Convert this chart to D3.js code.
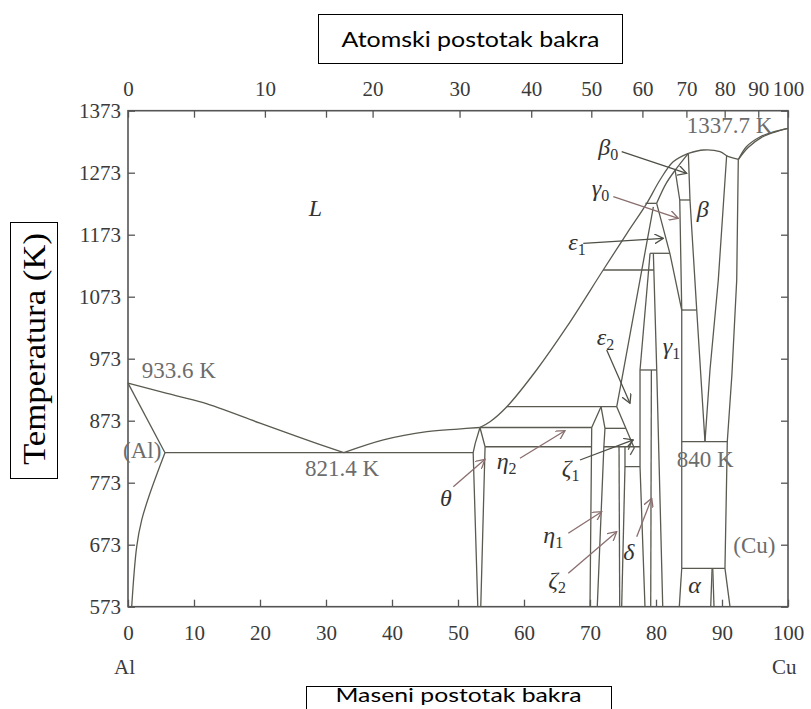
<!DOCTYPE html>
<html><head><meta charset="utf-8">
<script src="https://cdn.jsdelivr.net/npm/d3@7"></script>
<style>body{margin:0;background:#fff}svg{display:block}</style>
</head><body>
<svg id="c" width="811" height="709"></svg>
<script>
// ---------- data (wt% Cu, temperature K) ----------
const wtTicks = [0,10,20,30,40,50,60,70,80,90,100];
const atTicks = [0,10,20,30,40,50,60,70,80,90,100];
const tempTicks = [573,673,773,873,973,1073,1173,1273,1373];
const topExtraWt = [10,30];

const alLiquidus = [[0,933.6],[5.9,917],[11.4,902],[20,869],[26,846],[32.7,821.4]];
const eutLiquidus = [[32.7,821.4],[38.7,842],[45.3,855.3],[50,859.5],[53.3,862]];
const upperLiquidus = [[53.3,862],[54.85,871.4],[57.4,895.6],[61.9,954.8],[66.5,1024.6],[72.0,1116.1],[75.6,1175.3],[78.6,1223.6],[80.6,1261.2],[82.6,1290.7],[84.9,1304.3]];
const betaDome = [[84.9,1304.3],[87.2,1309.6],[89.7,1306.9],[91.0,1298.8],[92.5,1294.6]];
const cuLiquidus = [[92.5,1294.6],[93.7,1314.9],[95.8,1331],[97.8,1339],[100,1344.6]];
const cuSolidus = [[92.5,1294.6],[94.0,1314],[96,1330],[98,1338.5],[100,1344.6]];
const alSolvus = [[5.6,821.4],[3.33,756],[2.08,713],[1.32,670],[0.56,573]];
const gamma0Solidus = [[84.9,1304.3],[82.9,1277],[81.5,1255],[80.1,1223.6]];

const alSolidus = [[0,933.6],[5.6,821.4]];
const eutectic = [[5.6,821.4],[52.3,821.4]];
const thetaLeft = [[53.33,862],[52.6,836],[52.3,821.4],[53.0,573]];
const thetaRight = [[53.33,862],[54.1,831],[53.45,573]];
const theta862 = [[53.33,862],[70.26,862]];
const eta831 = [[54.1,831],[70.15,831]];
const eta895 = [[57.38,895.6],[74.05,895.6]];
const etaLeft = [[71.67,895.6],[70.26,862],[70.0,573]];
const etaRight = [[71.67,895.6],[72.27,860.7],[72.1,831],[71.1,573]];
const zeta860 = [[72.27,860.7],[75.44,860.7]];
const zeta831 = [[72.1,831],[77.58,831]];
const zetaBox = [[75.3,831],[75.3,798.8],[77.58,798.8]];
const zeta2Left = [[74.4,831],[74.5,573]];
const zeta2Right = [[75.3,798.8],[74.8,573]];
const zeta1a = [[76.3,839],[75.8,826]];
const zeta1b = [[76.3,839],[76.7,829],[76.1,818]];
const eps2Left = [[79.6,1218],[74.8,938.6],[74.05,895.6],[76.3,839]];
const eps1Right = [[79.1,1143],[77.58,954.8]];
const deltaLeft = [[77.58,954.8],[77.58,798.8],[78.33,573]];
const deltaRight = [[79.3,954.8],[79.2,573]];
const delta955 = [[77.58,954.8],[80.11,954.8]];
const gamma1Left = [[79.6,1143],[80.11,954.8],[81.02,573]];
const eps1Top = [[78.4,1223.6],[80.1,1223.6]];
const eps2Peritectic = [[72.0,1116.1],[79.7,1116.1]];
const gamma1143 = [[79.1,1143],[82.1,1143]];
const gamma0Left = [[80.1,1223.6],[82.1,1143],[83.9,1051.5]];
const gamma0Right = [[82.9,1277],[83.6,1229]];
const beta0Bottom = [[83.6,1229],[85.15,1229]];
const gamma1Right = [[83.6,1229],[83.9,1051.5],[83.9,839.1],[83.9,634.9]];
const beta1051 = [[83.9,1051.5],[86.17,1051.5]];
const betaLeft = [[84.9,1304.3],[85.15,1229],[86.17,1051.5],[87.42,839.1]];
const betaRight = [[90.71,1301.5],[89.44,1100],[88.18,954.8],[87.42,839.1]];
const eutectoid840 = [[83.9,839.1],[90.8,839.1]];
const cuSolvus = [[92.47,1294.6],[92.23,1100],[91.5,947],[90.8,839.1],[90.45,634.9],[91.21,573]];
const alpha635 = [[83.9,634.9],[90.45,634.9]];
const alphaLeft = [[83.9,634.9],[83.53,573]];
const alpha2a = [[88.5,634.9],[88.29,573]];
const alpha2b = [[88.6,634.9],[88.79,573]];

const curvedLines = [alLiquidus, eutLiquidus, upperLiquidus, betaDome, cuLiquidus, cuSolidus, alSolvus, gamma0Solidus];
const straightLines = [alSolidus, eutectic, thetaLeft, thetaRight, theta862, eta831, eta895, etaLeft, etaRight,
  zeta860, zeta831, zetaBox, zeta2Left, zeta2Right, zeta1a, zeta1b, eps2Left, eps1Right, deltaLeft, deltaRight,
  delta955, gamma1Left, eps1Top, eps2Peritectic, gamma1143, gamma0Left, gamma0Right, beta0Bottom, gamma1Right,
  beta1051, betaLeft, betaRight, eutectoid840, cuSolvus, alpha635, alphaLeft, alpha2a, alpha2b];

// phase labels: [base, subscript, wt, T]
const phaseLabels = [
  ['L','',27.4,1203],
  ['θ','',47.27,735.4],
  ['η','2',55.86,795.1],
  ['ζ','1',65.71,783.8],
  ['η','1',62.93,675.7],
  ['ζ','2',63.68,603.2],
  ['δ','',75.05,648.3],
  ['α','',84.89,595.1],
  ['β','0',71.26,1301.5],
  ['γ','0',70.26,1235.4],
  ['ε','1',66.71,1148.3],
  ['ε','2',71.02,995],
  ['γ','1',81.02,980.6],
  ['β','',86.17,1201.5]
];
// value labels: [text, wt, T]
const valueLabels = [
  ['933.6 K',2.08,941.9],
  ['821.4 K',26.82,783.8],
  ['(Al)',-0.76,812.8],
  ['840 K',83.14,798.3],
  ['(Cu)',91.71,659.6],
  ['1337.7 K',84.65,1337]
];
// arrows: [fromWt, fromT, toWt, toT, kind]
const arrows = [
  [49.29,766.6,54.09,810.7,'b'],
  [59.39,812.4,66.21,856.9,'b'],
  [68.48,809.6,76.56,841.9,'g'],
  [66.71,691.4,71.77,726.2,'b'],
  [66.71,626.9,74.05,694,'b'],
  [77.08,686,79.35,747.8,'b'],
  [72.53,987,76.06,901.1,'g'],
  [68.98,1159.1,81.11,1167.2,'g'],
  [73.53,1234.3,83.38,1199.5,'b'],
  [74.8,1306.9,84.65,1272,'g']
];

// ---------- drawing ----------
const svg = d3.select('#c');
const x = d3.scaleLinear().domain([0,100]).range([128,788]);
const y = d3.scaleLinear().domain([573,1373]).range([606.7,110.7]);
const atToWt = a => 100*a*63.546/(a*63.546+(100-a)*26.98);

const lineCol = '#5a5a50';
const serif = 'Liberation Serif, Times New Roman, serif';

const defs = svg.append('defs');
[['b','#8a6e6e'],['g','#4e4e46']].forEach(([k,c])=>{
  defs.append('marker').attr('id','ah'+k).attr('viewBox','0 0 10 10')
    .attr('refX',9).attr('refY',5).attr('markerWidth',10).attr('markerHeight',10)
    .attr('markerUnits','userSpaceOnUse').attr('orient','auto')
    .append('path').attr('d','M0,0 L9,5 L0,10').attr('fill','none').attr('stroke',c).attr('stroke-width',1.3);
});

// axes
const fmt = d3.format('d');
const axisStyle = g => {
  g.attr('font-family',serif).attr('font-size',21);
  g.select('.domain').remove();
  g.selectAll('.tick line').attr('stroke','#555').attr('stroke-width',1.3);
  g.selectAll('.tick text').attr('fill','#3a3a3a').style('font-family',serif).style('font-size','21px');
};
svg.append('g').attr('transform',`translate(0,${y(573)})`)
  .call(d3.axisBottom(x).tickValues(wtTicks).tickFormat(fmt).tickSizeInner(-7).tickSizeOuter(0).tickPadding(18)).call(axisStyle);
svg.append('g').attr('transform',`translate(${x(0)},0)`)
  .call(d3.axisLeft(y).tickValues(tempTicks).tickFormat(fmt).tickSizeInner(-7).tickSizeOuter(0).tickPadding(7)).call(axisStyle);
svg.append('g').attr('transform',`translate(${x(100)},0)`)
  .call(d3.axisRight(y).tickValues(tempTicks).tickSizeInner(-7).tickSizeOuter(0).tickFormat('')).call(axisStyle);
svg.append('g').attr('transform',`translate(0,${y(1373)})`)
  .call(d3.axisTop(x).tickValues(atTicks.map(atToWt)).tickFormat((d,i)=>atTicks[i]).tickSizeInner(-7).tickSizeOuter(0).tickPadding(15)).call(axisStyle);
svg.append('g').attr('transform',`translate(0,${y(1373)})`)
  .call(d3.axisTop(x).tickValues(topExtraWt).tickSizeInner(-7).tickSizeOuter(0).tickFormat('')).call(axisStyle);

// frame
svg.append('rect').attr('x',x(0)).attr('y',y(1373)).attr('width',x(100)-x(0)).attr('height',y(573)-y(1373))
  .attr('fill','none').attr('stroke','#555').attr('stroke-width',1.6);

// phase lines
const lineGen = d3.line().x(d=>x(d[0])).y(d=>y(d[1]));
const curveGen = d3.line().x(d=>x(d[0])).y(d=>y(d[1])).curve(d3.curveCatmullRom.alpha(0.5));
svg.append('g').selectAll('path').data(curvedLines).join('path')
  .attr('d',curveGen).attr('fill','none').attr('stroke',lineCol).attr('stroke-width',1.3);
svg.append('g').selectAll('path').data(straightLines).join('path')
  .attr('d',lineGen).attr('fill','none').attr('stroke',lineCol).attr('stroke-width',1.3).attr('stroke-linejoin','round');

// arrows
svg.append('g').selectAll('line').data(arrows).join('line')
  .attr('x1',d=>x(d[0])).attr('y1',d=>y(d[1])).attr('x2',d=>x(d[2])).attr('y2',d=>y(d[3]))
  .attr('stroke',d=>d[4]==='b'?'#8a6e6e':'#4e4e46').attr('stroke-width',1.3)
  .attr('marker-end',d=>`url(#ah${d[4]})`);

// value labels
svg.append('g').selectAll('text').data(valueLabels).join('text')
  .attr('x',d=>x(d[1])).attr('y',d=>y(d[2])).text(d=>d[0])
  .attr('fill','#6c6c6c').style('font-family',serif).style('font-size','23px');

// phase labels
const pl = svg.append('g').selectAll('text').data(phaseLabels).join('text')
  .attr('x',d=>x(d[2])).attr('y',d=>y(d[3]))
  .attr('fill','#333').style('font-family',serif).style('font-size','24px').style('font-style','italic');
pl.append('tspan').text(d=>d[0]);
pl.filter(d=>d[1]).append('tspan').attr('dy',5).style('font-size','16px').style('font-style','normal').text(d=>d[1]);

// end labels
svg.append('text').attr('x',x(0)-14).attr('y',674).text('Al').attr('fill','#3a3a3a').style('font-family',serif).style('font-size','21px');
svg.append('text').attr('x',x(100)-16).attr('y',674).text('Cu').attr('fill','#3a3a3a').style('font-family',serif).style('font-size','21px');

// title boxes
svg.append('rect').attr('x',318.5).attr('y',14.5).attr('width',304).attr('height',49).attr('fill','#fff').attr('stroke','#000').attr('stroke-width',1);
svg.append('text').attr('x',470.5).attr('y',47).attr('text-anchor','middle').text('Atomski postotak bakra')
  .style('font-family','Lato, "Open Sans", sans-serif').style('font-size','22px').attr('fill','#000')
  .attr('textLength',258).attr('lengthAdjust','spacingAndGlyphs');
svg.append('rect').attr('x',306.5).attr('y',686.5).attr('width',305).attr('height',40).attr('fill','#fff').attr('stroke','#000').attr('stroke-width',1);
svg.append('text').attr('x',458.5).attr('y',702).attr('text-anchor','middle').text('Maseni postotak bakra')
  .style('font-family','Lato, "Open Sans", sans-serif').style('font-size','20px').attr('fill','#000')
  .attr('textLength',246).attr('lengthAdjust','spacingAndGlyphs');
svg.append('rect').attr('x',10.5).attr('y',222.5).attr('width',47).attr('height',256).attr('fill','#fff').attr('stroke','#000').attr('stroke-width',1);
svg.append('text').attr('transform','translate(45,349) rotate(-90)').attr('text-anchor','middle').text('Temperatura (K)')
  .style('font-family',serif).style('font-size','31px').attr('fill','#000')
  .attr('textLength',232).attr('lengthAdjust','spacingAndGlyphs');
</script>
</body></html>
